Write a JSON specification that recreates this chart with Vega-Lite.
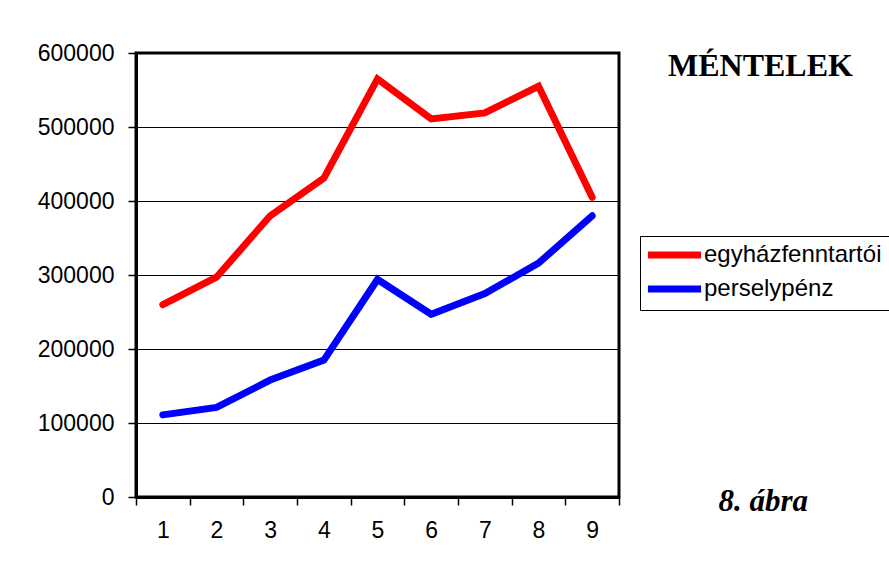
{
  "$schema": "https://vega.github.io/schema/vega-lite/v6.json",
  "width": 483,
  "height": 444,
  "autosize": "none",
  "padding": {"left": 136, "top": 53, "right": 270, "bottom": 69},
  "background": "white",
  "title": {
    "text": "MÉNTELEK",
    "font": "Liberation Serif",
    "fontSize": 32,
    "fontWeight": "bold",
    "color": "black",
    "anchor": "start",
    "frame": "group",
    "orient": "top",
    "dx": 532,
    "dy": 66,
    "offset": 0,
    "baseline": "alphabetic"
  },
  "config": {
    "view": {"stroke": "black", "strokeWidth": 3},
    "axis": {
      "labelFont": "Liberation Sans",
      "labelFontSize": 23,
      "labelColor": "black",
      "domainColor": "black",
      "domainWidth": 3,
      "tickColor": "black",
      "tickWidth": 1.5,
      "tickSize": 8,
      "gridColor": "black",
      "gridWidth": 1,
      "gridOpacity": 1
    }
  },
  "data": {
    "values": [
      {"x": 1, "series": "egyházfenntartói", "value": 260000},
      {"x": 2, "series": "egyházfenntartói", "value": 297000},
      {"x": 3, "series": "egyházfenntartói", "value": 380000},
      {"x": 4, "series": "egyházfenntartói", "value": 431000},
      {"x": 5, "series": "egyházfenntartói", "value": 565000},
      {"x": 6, "series": "egyházfenntartói", "value": 511000},
      {"x": 7, "series": "egyházfenntartói", "value": 519000},
      {"x": 8, "series": "egyházfenntartói", "value": 555000},
      {"x": 9, "series": "egyházfenntartói", "value": 405000},
      {"x": 1, "series": "perselypénz", "value": 111000},
      {"x": 2, "series": "perselypénz", "value": 121000},
      {"x": 3, "series": "perselypénz", "value": 158000},
      {"x": 4, "series": "perselypénz", "value": 185000},
      {"x": 5, "series": "perselypénz", "value": 294000},
      {"x": 6, "series": "perselypénz", "value": 247000},
      {"x": 7, "series": "perselypénz", "value": 275000},
      {"x": 8, "series": "perselypénz", "value": 316000},
      {"x": 9, "series": "perselypénz", "value": 380000}
    ]
  },
  "mark": {"type": "line", "strokeWidth": 7, "strokeCap": "round", "strokeJoin": "miter"},
  "encoding": {
    "x": {
      "field": "x",
      "type": "ordinal",
      "bandPosition": 0.5,
      "scale": {"type": "band", "paddingInner": 0, "paddingOuter": 0},
      "axis": {
        "labelAngle": 0,
        "tickBand": "extent",
        "grid": false,
        "labelPadding": 14,
        "title": "8. ábra",
        "titleFont": "Liberation Serif",
        "titleFontSize": 31,
        "titleFontWeight": "bold",
        "titleFontStyle": "italic",
        "titleColor": "black",
        "titleAlign": "left",
        "titleBaseline": "alphabetic",
        "titleAngle": 0,
        "titleX": 582,
        "titleY": 13
      }
    },
    "y": {
      "field": "value",
      "type": "quantitative",
      "scale": {"domain": [0, 600000], "nice": false},
      "axis": {
        "values": [0, 100000, 200000, 300000, 400000, 500000, 600000],
        "format": "d",
        "labelPadding": 14,
        "title": null,
        "grid": true
      }
    },
    "color": {
      "field": "series",
      "type": "nominal",
      "scale": {"domain": ["egyházfenntartói", "perselypénz"], "range": ["#FF0000", "#0000FF"]},
      "legend": {
        "title": null,
        "orient": "none",
        "legendX": 504,
        "legendY": 183,
        "symbolType": "M-1.3,0H4.95",
        "symbolSize": 289,
        "symbolStrokeWidth": 7,
        "labelFont": "Liberation Sans",
        "labelFontSize": 24,
        "labelColor": "black",
        "labelOffset": 33,
        "rowPadding": 6,
        "padding": 7,
        "strokeColor": "black",
        "fillColor": "white",
        "labelLimit": 400
      }
    }
  }
}
